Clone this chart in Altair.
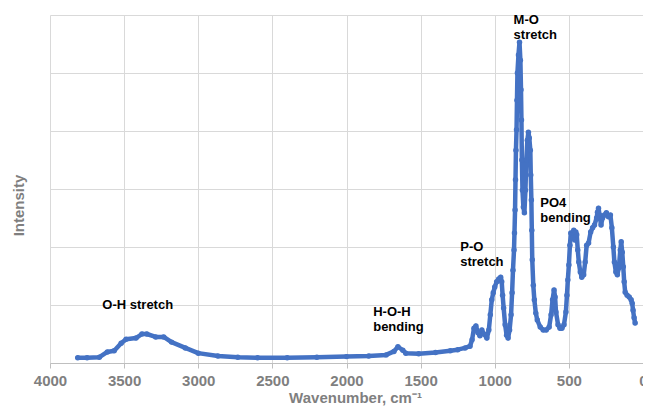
import altair as alt
import pandas as pd

# Spectrum
wavenumber = [
    3813, 3750, 3667, 3613, 3567, 3520, 3487, 3420, 3380, 3347, 3287, 3233, 3180,
    3087, 3000, 2867, 2733, 2600, 2400, 2200, 2000, 1850, 1733, 1680, 1653, 1620,
    1600, 1513, 1400, 1300, 1250, 1200,
    1167, 1153, 1140, 1127, 1113, 1100, 1087, 1073, 1053, 1040, 1030, 1020, 1010,
    1000, 987, 973, 960, 953, 947, 940, 930, 920, 910, 900, 890, 883, 877, 870,
    867, 863, 860, 857, 853, 850, 847, 840, 833,
    827, 823, 820, 817, 813, 807, 800, 793, 787, 780, 773, 767, 760, 757, 753,
    750, 747, 740, 733, 723, 713, 693, 673, 653, 633, 620, 610, 600, 593, 587,
    573, 560, 547, 533, 520, 513, 507, 500, 493, 487, 480, 473, 467, 460, 453,
    447, 440, 433, 423, 413, 400, 390, 380, 367, 353, 340, 327, 313, 307, 300,
    293, 283, 273, 260, 247, 233, 220, 210, 200, 193, 183, 173, 163, 153, 147,
    140, 133, 127, 120, 107, 93, 80, 73, 67, 60, 53,
]
intensity = [
    0.09, 0.09, 0.10, 0.19, 0.21, 0.34, 0.41, 0.43, 0.50, 0.50, 0.45, 0.45, 0.36,
    0.26, 0.17, 0.12, 0.10, 0.09, 0.09, 0.10, 0.11, 0.12, 0.14, 0.20, 0.28, 0.22,
    0.17, 0.16, 0.18, 0.21, 0.23, 0.26,
    0.29, 0.40, 0.60, 0.64, 0.52, 0.47, 0.57, 0.50, 0.43, 0.57, 0.83, 1.09, 1.21,
    1.31, 1.40, 1.45, 1.48, 1.40, 1.17, 0.95, 0.66, 0.48, 0.43, 0.57, 0.83, 1.21, 1.60, 1.95,
    2.24, 2.64, 3.16, 3.67, 4.02, 4.53, 5.00, 5.31, 5.53,
    5.22, 4.71, 4.19, 3.50, 2.98, 2.69, 2.59, 2.98, 3.50, 3.84, 3.98, 3.88, 3.67, 3.24, 2.81,
    2.29, 1.78, 1.34, 1.09, 0.86, 0.74, 0.62, 0.57, 0.57, 0.62, 0.83, 1.09, 1.26, 1.14, 0.88,
    0.66, 0.60, 0.60, 0.66, 0.88, 1.17, 1.43, 1.69, 2.03, 2.24, 2.21, 2.16, 2.29, 2.12, 2.26,
    2.21, 1.95, 1.74, 1.57, 1.48, 1.52, 1.74, 2.03, 2.07, 2.26, 2.33, 2.38, 2.50, 2.60, 2.67,
    2.55, 2.38, 2.50, 2.55, 2.59, 2.52, 2.55, 2.33, 2.00, 1.74, 1.57, 1.52, 1.64, 1.95, 2.09,
    1.91, 1.66, 1.40, 1.22, 1.17, 1.14, 1.09, 1.03, 0.91, 0.78, 0.69,
]

ann_text = [["O-H stretch"], ["H-O-H", "bending"], ["P-O", "stretch"],
            ["M-O", "stretch"], ["PO4", "bending"]]
ann_x = [3647, 1820, 1233, 873, 693]
ann_y = [1.10, 0.98, 2.10, 6.02, 2.86]

x_ticks = [4000, 3500, 3000, 2500, 2000, 1500, 1000, 500, 0]

df = pd.DataFrame({"wn": wavenumber, "I": intensity})
ann = pd.DataFrame({"label": ann_text, "wn": ann_x, "I": ann_y})

blue = "#4472C4"
gray = "#7f7f7f"
font = "Liberation Sans"

x_scale = alt.Scale(domain=[0, 4000], reverse=True, nice=False)
y_scale = alt.Scale(domain=[0, 6], nice=False)

x_axis = alt.Axis(
    values=x_ticks, format="d", title="Wavenumber, cm⁻¹", grid=True,
    gridColor="#d9d9d9", domainColor="#bfbfbf", tickColor="#bfbfbf", tickSize=5,
    labelFlush=False, labelFont=font, labelFontSize=15, labelFontWeight="bold",
    labelColor=gray, labelPadding=5, titleFont=font, titleFontSize=15,
    titleFontWeight="bold", titleColor=gray, titleY=34, titleX=305,
    titleBaseline="middle",
)
y_axis = alt.Axis(
    values=[0, 1, 2, 3, 4, 5, 6], labels=False, ticks=False, domain=False,
    grid=True, gridColor="#d9d9d9", title="Intensity", titleFont=font,
    titleFontSize=15, titleFontWeight="bold", titleColor=gray,
    titleX=-32, titleY=190, titleBaseline="middle", titleAlign="center",
)

base = alt.Chart(df).encode(
    x=alt.X("wn:Q", scale=x_scale, axis=x_axis),
    y=alt.Y("I:Q", scale=y_scale, axis=y_axis),
)
line = base.mark_line(color=blue, strokeWidth=4.5, strokeJoin="round", strokeCap="round")
pts = base.mark_circle(color=blue, size=30, opacity=1)

text = alt.Chart(ann).mark_text(
    align="left", baseline="top", font=font, fontSize=13, fontWeight="bold",
    color="#000000", lineHeight=15,
).encode(
    x=alt.X("wn:Q", scale=x_scale),
    y=alt.Y("I:Q", scale=y_scale),
    text="label",
)

chart = (line + pts + text).properties(
    width=593, height=348,
    autosize=alt.AutoSizeParams(type="none"),
    padding={"left": 42, "top": 7, "right": 0, "bottom": 43},
).configure_view(stroke=None)

chart.save("out.html", embed_options={"renderer": "svg", "actions": False})
